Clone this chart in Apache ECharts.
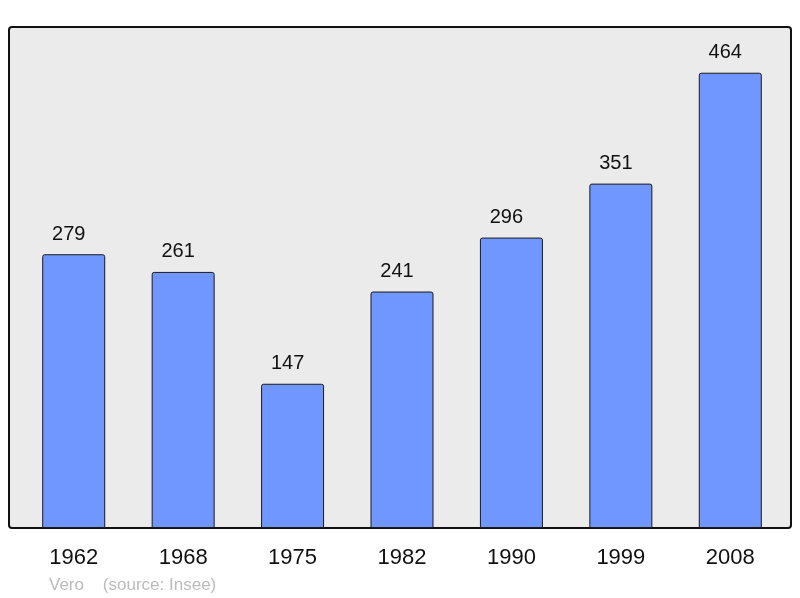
<!DOCTYPE html>
<html>
<head>
<meta charset="utf-8">
<script src="https://cdn.jsdelivr.net/npm/echarts@6/dist/echarts.min.js"></script>
<style>
html,body{margin:0;padding:0;background:#fff;}
#c{width:800px;height:598px;}
</style>
</head>
<body>
<div id="c"></div>
<script>
const years = ['1962', '1968', '1975', '1982', '1990', '1999', '2008'];
const population = [279, 261, 147, 241, 296, 351, 464];
const credit = 'Vero    (source: Insee)';

const chart = echarts.init(document.getElementById('c'), null, {renderer: 'canvas'});
chart.setOption({
  animation: false,
  backgroundColor: '#ffffff',
  graphic: [
    {
      type: 'rect',
      z: -10,
      shape: {x: 9, y: 27, width: 782, height: 501, r: 3},
      style: {fill: '#ebebeb', stroke: '#111', lineWidth: 2}
    },
    {
      type: 'text',
      left: 49,
      top: 577,
      style: {text: credit, fill: '#bbbbbb', font: '17px "Liberation Sans", Arial, sans-serif'}
    }
  ],
  grid: {left: 19, width: 766, top: 27, bottom: 70, containLabel: false},
  xAxis: {
    type: 'category',
    data: years,
    axisLine: {show: false},
    axisTick: {show: false},
    axisLabel: {
      margin: 19,
      color: '#111',
      fontSize: 22,
      fontFamily: '"Liberation Sans", Arial, sans-serif'
    }
  },
  yAxis: {
    type: 'value',
    min: 0,
    max: 510.6,
    show: false,
    splitLine: {show: false}
  },
  series: [{
    type: 'bar',
    data: population,
    barWidth: 63,
    itemStyle: {
      color: '#7096ff',
      borderColor: '#1a1a1a',
      borderWidth: 1,
      borderRadius: [2, 2, 0, 0]
    },
    label: {
      show: true,
      position: 'top',
      distance: 10,
      offset: [-5, 0],
      color: '#111',
      fontSize: 20,
      fontFamily: '"Liberation Sans", Arial, sans-serif'
    }
  }]
});
</script>
</body>
</html>
